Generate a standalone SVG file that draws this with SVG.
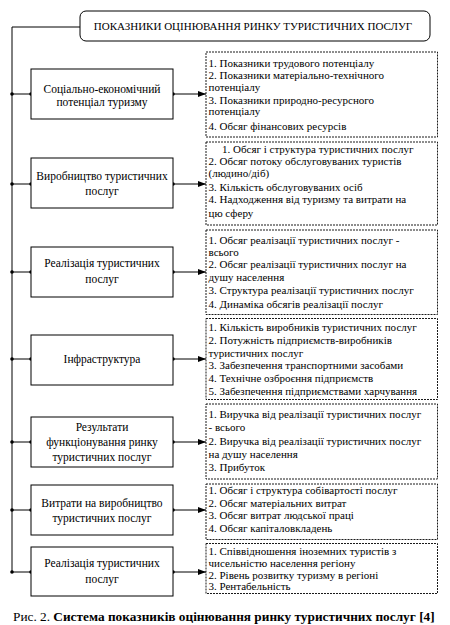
<svg xmlns="http://www.w3.org/2000/svg" width="450" height="625" viewBox="0 0 450 625" font-family="Liberation Serif, serif">
<defs>
<style>
text{font-family:Liberation Serif,serif;fill:#000}
.n{font-size:11.5px;text-anchor:middle}
.b{font-size:11px}
.t{font-size:11px;text-anchor:middle}
.cap{font-size:13.3px}
.node{fill:#fff;stroke:#000;stroke-width:1}
.dbox{fill:#fff;stroke:#000;stroke-width:0.9;stroke-dasharray:2,1}
.ln{stroke:#000;stroke-width:1;fill:none}
.dot{fill:#000}
</style>
<marker id="ah" viewBox="0 0 8 6" refX="8" refY="3" markerWidth="8" markerHeight="6" markerUnits="userSpaceOnUse" orient="auto">
<path d="M0,0 L8,3 L0,6 z" fill="#000"/>
</marker>
</defs>
<rect width="450" height="625" fill="#fff"/>

<g id="connectors">
<path class="ln" d="M12,27 H80"/>
<path class="ln" d="M12,27 V572"/>
<path class="ln" d="M12,94 H31"/>
<path class="ln" d="M12,184 H31"/>
<path class="ln" d="M12,272 H31"/>
<path class="ln" d="M12,359 H31"/>
<path class="ln" d="M12,442 H31"/>
<path class="ln" d="M12,510 H31"/>
<path class="ln" d="M12,572 H31"/>
<path class="ln" d="M173,94 H206" marker-end="url(#ah)"/>
<path class="ln" d="M173,184 H206" marker-end="url(#ah)"/>
<path class="ln" d="M173,272 H206" marker-end="url(#ah)"/>
<path class="ln" d="M173,359 H206" marker-end="url(#ah)"/>
<path class="ln" d="M173,442 H206" marker-end="url(#ah)"/>
<path class="ln" d="M173,510 H206" marker-end="url(#ah)"/>
<path class="ln" d="M173,572 H206" marker-end="url(#ah)"/>
<g class="dot">
<circle cx="12" cy="94" r="1.8"/><circle cx="31" cy="94" r="1.8"/><circle cx="173" cy="94" r="1.8"/>
<circle cx="12" cy="184" r="1.8"/><circle cx="31" cy="184" r="1.8"/><circle cx="173" cy="184" r="1.8"/>
<circle cx="12" cy="272" r="1.8"/><circle cx="31" cy="272" r="1.8"/><circle cx="173" cy="272" r="1.8"/>
<circle cx="12" cy="359" r="1.8"/><circle cx="31" cy="359" r="1.8"/><circle cx="173" cy="359" r="1.8"/>
<circle cx="12" cy="442" r="1.8"/><circle cx="31" cy="442" r="1.8"/><circle cx="173" cy="442" r="1.8"/>
<circle cx="12" cy="510" r="1.8"/><circle cx="31" cy="510" r="1.8"/><circle cx="173" cy="510" r="1.8"/>
<circle cx="12" cy="572" r="1.8"/><circle cx="31" cy="572" r="1.8"/><circle cx="173" cy="572" r="1.8"/>
</g>
</g>

<g id="title">
<rect x="80" y="11" width="350" height="30" rx="6" ry="6" class="node"/>
<text class="t" x="253" y="30">ПОКАЗНИКИ ОЦІНЮВАННЯ РИНКУ ТУРИСТИЧНИХ ПОСЛУГ</text>
</g>

<g id="node1">
<rect x="31" y="69" width="142" height="50" class="node"/>
<text class="n" x="102" y="92.5">Соціально-економічний</text>
<text class="n" x="102" y="106">потенціал туризму</text>
</g>
<g id="list1">
<rect x="206" y="52" width="231.5" height="85" class="dbox"/>
<text class="b" x="208.5" y="66.5">1. Показники трудового потенціалу</text>
<text class="b" x="208.5" y="78.5">2. Показники матеріально-технічного</text>
<text class="b" x="208.5" y="90.5">потенціалу</text>
<text class="b" x="208.5" y="103.5">3. Показники природно-ресурсного</text>
<text class="b" x="208.5" y="115">потенціалу</text>
<text class="b" x="208.5" y="130">4. Обсяг фінансових ресурсів</text>
</g>

<g id="node2">
<rect x="31" y="158" width="142" height="50" class="node"/>
<text class="n" x="102" y="179.5">Виробництво туристичних</text>
<text class="n" x="102" y="194.5">послуг</text>
</g>
<g id="list2">
<rect x="206" y="142" width="231.5" height="83" class="dbox"/>
<text class="b" x="222" y="153">1. Обсяг і структура туристичних послуг</text>
<text class="b" x="208.5" y="165">2. Обсяг потоку обслуговуваних туристів</text>
<text class="b" x="208.5" y="177">(людино/діб)</text>
<text class="b" x="208.5" y="190.5">3. Кількість  обслуговуваних осіб</text>
<text class="b" x="208.5" y="203">4. Надходження від туризму та витрати на</text>
<text class="b" x="208.5" y="216.5">цю сферу</text>
</g>

<g id="node3">
<rect x="31" y="247" width="142" height="50" class="node"/>
<text class="n" x="102" y="267">Реалізація туристичних</text>
<text class="n" x="102" y="283">послуг</text>
</g>
<g id="list3">
<rect x="206" y="230" width="231.5" height="84.5" class="dbox"/>
<text class="b" x="208.5" y="243.5">1. Обсяг реалізації туристичних послуг -</text>
<text class="b" x="208.5" y="255.5">всього</text>
<text class="b" x="208.5" y="268">2. Обсяг реалізації туристичних послуг на</text>
<text class="b" x="208.5" y="280.5">душу населення</text>
<text class="b" x="208.5" y="293.5">3. Структура реалізації туристичних послуг</text>
<text class="b" x="208.5" y="307.5">4. Динаміка обсягів реалізації послуг</text>
</g>

<g id="node4">
<rect x="31" y="335" width="142" height="50" class="node"/>
<text class="n" x="102" y="363">Інфраструктура</text>
</g>
<g id="list4">
<rect x="206" y="318.5" width="231.5" height="81" class="dbox"/>
<text class="b" x="208.5" y="330.5">1. Кількість  виробників туристичних послуг</text>
<text class="b" x="208.5" y="344">2. Потужність підприємств-виробників</text>
<text class="b" x="208.5" y="357">туристичних послуг</text>
<text class="b" x="208.5" y="369">3. Забезпечення транспортними засобами</text>
<text class="b" x="208.5" y="381.5">4. Технічне озброєння підприємств</text>
<text class="b" x="208.5" y="394.5">5. Забезпечення підприємствами харчування</text>
</g>

<g id="node5">
<rect x="31" y="417" width="142" height="50" class="node"/>
<text class="n" x="102" y="431">Результати</text>
<text class="n" x="102" y="446">функціонування ринку</text>
<text class="n" x="102" y="460.5">туристичних послуг</text>
</g>
<g id="list5">
<rect x="206" y="404" width="231.5" height="75" class="dbox"/>
<text class="b" x="208.5" y="417.5">1. Виручка від реалізації туристичних послуг</text>
<text class="b" x="208.5" y="431">- всього</text>
<text class="b" x="208.5" y="444.5">2. Виручка від реалізації туристичних послуг</text>
<text class="b" x="208.5" y="458">на душу населення</text>
<text class="b" x="208.5" y="471">3. Прибуток</text>
</g>

<g id="node6">
<rect x="31" y="485" width="142" height="50" class="node"/>
<text class="n" x="102" y="506.5">Витрати на виробництво</text>
<text class="n" x="102" y="522">туристичних послуг</text>
</g>
<g id="list6">
<rect x="206" y="484" width="231.5" height="55.5" class="dbox"/>
<text class="b" x="208.5" y="494">1. Обсяг і структура собівартості послуг</text>
<text class="b" x="208.5" y="507">2. Обсяг матеріальних витрат</text>
<text class="b" x="208.5" y="519">3. Обсяг витрат людської праці</text>
<text class="b" x="208.5" y="531.5">4. Обсяг капіталовкладень</text>
</g>

<g id="node7">
<rect x="31" y="547" width="142" height="49" class="node"/>
<text class="n" x="102" y="567">Реалізація туристичних</text>
<text class="n" x="102" y="583">послуг</text>
</g>
<g id="list7">
<rect x="206" y="543.5" width="231.5" height="50" class="dbox"/>
<text class="b" x="208.5" y="554.5">1. Співвідношення іноземних туристів з</text>
<text class="b" x="208.5" y="566.5">чисельністю населення регіону</text>
<text class="b" x="208.5" y="579">2. Рівень  розвитку туризму в регіоні</text>
<text class="b" x="208.5" y="590">3. Рентабельність</text>
</g>

<text class="cap" x="13" y="621">Рис. 2. <tspan font-weight="bold">Система показників оцінювання ринку туристичних послуг [4]</tspan></text>
</svg>
